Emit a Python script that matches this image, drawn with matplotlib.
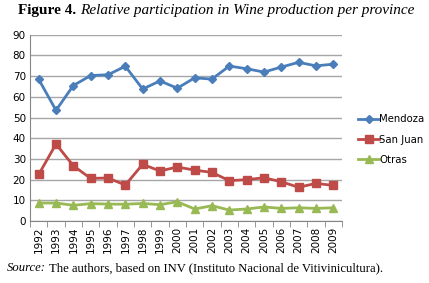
import matplotlib
matplotlib.use('Agg')
from matplotlib import pyplot as plt

years = ['1992', '1993', '1994', '1995', '1996', '1997', '1998', '1999', '2000',
         '2001', '2002', '2003', '2004', '2005', '2006', '2007', '2008', '2009']
mendoza = [68.5, 53.5, 65.5, 70.3, 70.7, 74.8, 63.8, 67.7, 64.2,
           69.2, 68.6, 74.9, 73.6, 72.0, 74.4, 76.7, 75.0, 75.8]
san_juan = [22.5, 37.2, 26.7, 20.6, 20.8, 17.4, 27.4, 24.2, 26.1,
            24.6, 23.5, 19.5, 20.0, 20.9, 19.0, 16.3, 18.2, 17.2]
otras = [8.7, 8.7, 7.6, 8.4, 8.2, 8.1, 8.5, 7.9, 9.3,
         5.8, 7.4, 5.3, 5.8, 6.8, 6.1, 6.4, 6.1, 6.4]

fig = plt.figure(figsize=(4.29, 2.83), dpi=100)
ax = fig.add_axes([0.070, 0.219, 0.727, 0.658])

x = range(len(years))
l1, = ax.plot(x, mendoza, color='#4a7ebb', lw=2, marker='D', ms=4.5, label='Mendoza')
l2, = ax.plot(x, san_juan, color='#be4b48', lw=2, marker='s', ms=6, label='San Juan')
l3, = ax.plot(x, otras, color='#98b954', lw=2, marker='^', ms=6, label='Otras')

ax.set_xlim(-0.5, len(years) - 0.5)
ax.set_ylim(0, 90)
ax.set_yticks(range(0, 91, 10))
ax.yaxis.grid(True, color='#a6a6a6', lw=1)
ax.set_axisbelow(True)
for s in ['top', 'right']:
    ax.spines[s].set_visible(False)
ax.spines['left'].set_color('#868686')
ax.spines['bottom'].set_color('#868686')
ax.tick_params(axis='y', length=0, labelsize=7.5, pad=3)
ax.set_xticks(list(x))
ax.set_xticklabels(years, rotation=90, fontsize=7.5)
ax.tick_params(axis='x', length=0, pad=4)
ax.set_xticks([i - 0.5 for i in range(len(years) + 1)], minor=True)
ax.tick_params(axis='x', which='minor', length=4, color='#868686', direction='out')

fig.legend(handles=[l1, l2, l3], loc='upper left', bbox_to_anchor=(0.826, 0.61),
           frameon=False, fontsize=7.3, handlelength=2.0, handletextpad=0.05,
           labelspacing=1.0, borderaxespad=0)

# title: bold part then italic part
t1 = fig.text(0.042, 0.962, 'Figure 4.', fontfamily='Liberation Serif', fontweight='bold',
              fontsize=11, va='center')
fig.canvas.draw()
bb = t1.get_window_extent()
fig.text((bb.x1 + 4) / fig.bbox.width, 0.962, 'Relative participation in Wine production per province',
         fontfamily='Liberation Serif', style='italic', fontsize=11, va='center')

s1 = fig.text(0.016, 0.053, 'Source:', fontfamily='Liberation Serif', style='italic',
              fontsize=9.1, va='center')
fig.canvas.draw()
bb = s1.get_window_extent()
fig.text((bb.x1 + 3) / fig.bbox.width, 0.053,
         'The authors, based on INV (Instituto Nacional de Vitivinicultura).',
         fontfamily='Liberation Serif', fontsize=9.1, va='center')

fig.savefig('out.png', dpi=100)
